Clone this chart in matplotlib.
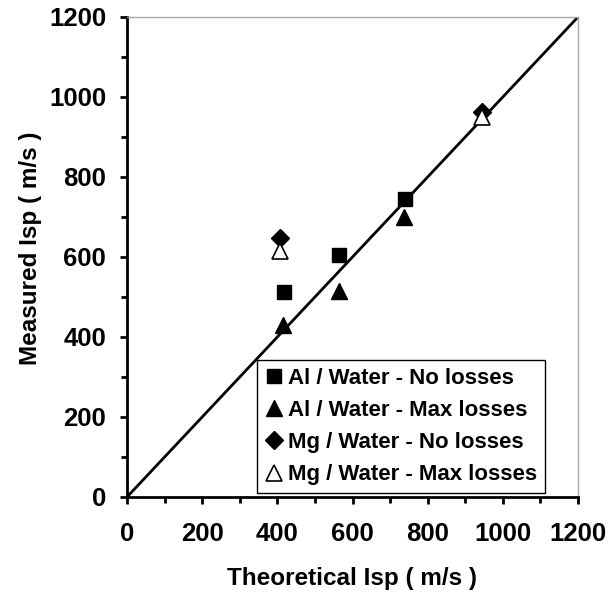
import matplotlib
matplotlib.use("Agg")
import matplotlib.pyplot as plt
from matplotlib.ticker import MultipleLocator

plt.rcParams['font.family'] = ['Liberation Sans', 'DejaVu Sans']
plt.rcParams['font.weight'] = 'bold'

# data (theoretical, measured)
al_no_x = [418, 565, 740]
al_no_y = [512, 605, 745]
al_max_x = [415, 565, 737]
al_max_y = [430, 515, 700]
mg_no_x = [407, 945]
mg_no_y = [648, 962]
mg_max_x = [407, 945]
mg_max_y = [615, 950]

ticks = [0, 200, 400, 600, 800, 1000, 1200]

fig = plt.figure(figsize=(6.13, 5.98), dpi=100)
ax = fig.add_axes([0.2072, 0.1689, 0.7357, 0.8027])

ax.plot([0, 1200], [0, 1200], color='black', lw=2, zorder=2)

ax.plot(al_no_x, al_no_y, 's', color='black', ms=9.5, ls='none',
        label='Al / Water - No losses', zorder=3)
ax.plot(al_max_x, al_max_y, '^', color='black', ms=11, ls='none',
        label='Al / Water - Max losses', zorder=3)
ax.plot(mg_no_x, mg_no_y, 'D', color='black', ms=9, ls='none',
        label='Mg / Water - No losses', zorder=3)
ax.plot(mg_max_x, mg_max_y, '^', mfc='white', mec='black', mew=1.2, ms=11,
        ls='none', label='Mg / Water - Max losses', zorder=4)

ax.set_xlim(0, 1200)
ax.set_ylim(0, 1200)
ax.set_xticks(ticks)
ax.set_yticks(ticks)
ax.xaxis.set_minor_locator(MultipleLocator(100))
ax.yaxis.set_minor_locator(MultipleLocator(100))

for s in ['left', 'bottom']:
    ax.spines[s].set_linewidth(2)
    ax.spines[s].set_color('black')
for s in ['top', 'right']:
    ax.spines[s].set_linewidth(1)
    ax.spines[s].set_color('#a6a6a6')

ax.tick_params(which='major', direction='out', length=5, width=2,
               labelsize=18.5, top=False, right=False)
ax.tick_params(which='minor', direction='out', length=4, width=2,
               top=False, right=False)
ax.tick_params(axis='x', which='major', pad=13)
ax.tick_params(axis='y', which='major', pad=10)
for lab in ax.get_xticklabels() + ax.get_yticklabels():
    lab.set_fontweight('bold')

fig.text(0.575, 0.033, 'Theoretical Isp ( m/s )', ha='center', va='center',
         fontsize=17.5, fontweight='bold')
fig.text(0.05, 0.585, 'Measured Isp ( m/s )', ha='center', va='center',
         rotation=90, fontsize=17.5, fontweight='bold')

leg = ax.legend(loc='lower left', bbox_to_anchor=(0.288, 0.008),
                frameon=True, fancybox=False, edgecolor='black',
                prop={'size': 16, 'weight': 'bold'},
                handlelength=0.8, handletextpad=0.25, labelspacing=0.5,
                borderpad=0.35, borderaxespad=0, framealpha=1)
leg.get_frame().set_linewidth(1)

fig.savefig('out.png', dpi=100)
